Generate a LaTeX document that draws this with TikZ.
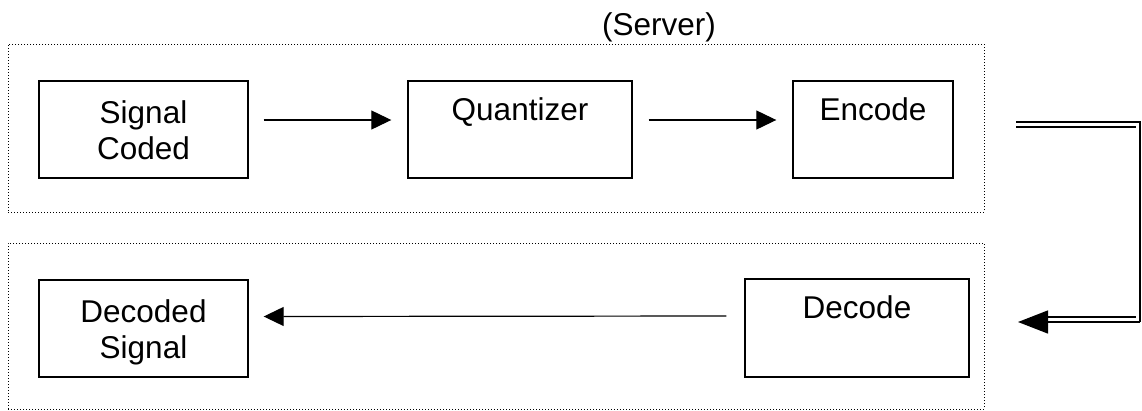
\documentclass[tikz,border=0pt]{standalone}
\usepackage{fontspec}
\setmainfont{Liberation Sans}
\usetikzlibrary{arrows.meta}
\begin{document}
\begin{tikzpicture}[x=1pt,y=-1pt,
  stagebox/.style={draw, line width=1.4pt, inner sep=0pt},
  groupbox/.style={draw, line width=1pt, dotted, inner sep=0pt},
  lbl/.style={font=\fontsize{31.5}{36}\selectfont, inner sep=0pt, align=center},
  flow/.style={line width=1.2pt, -{Triangle[length=20pt,width=19pt]}},
  link/.style={line width=1.4pt}
]
\useasboundingbox (0,0) rectangle (1142,410);

% dotted group frames
\node[groupbox, minimum width=976pt, minimum height=168pt] (server) at (496,128) {};
\node[groupbox, minimum width=976pt, minimum height=166pt] (client) at (496,326) {};
\node[lbl, anchor=base] (servertitle) at (659,35) {(Server)};

% processing stages
\node[stagebox, minimum width=209pt, minimum height=97pt] (sig) at (143.5,129.5) {};
\node[lbl, anchor=base] (sigA) at (143.5,123) {Signal};
\node[lbl, anchor=base] (sigB) at (143.5,159) {Coded};

\node[stagebox, minimum width=224pt, minimum height=97pt] (quant) at (520,129.5) {};
\node[lbl, anchor=base] (quantL) at (520,120) {Quantizer};

\node[stagebox, minimum width=160pt, minimum height=97pt] (enc) at (873,129.5) {};
\node[lbl, anchor=base] (encL) at (873,120) {Encode};

\node[stagebox, minimum width=209pt, minimum height=97pt] (dsig) at (143.5,328.5) {};
\node[lbl, anchor=base] (dsigA) at (143.5,322) {Decoded};
\node[lbl, anchor=base] (dsigB) at (143.5,358) {Signal};

\node[stagebox, minimum width=224pt, minimum height=98pt] (dec) at (857,328) {};
\node[lbl, anchor=base] (decL) at (857,318) {Decode};

% forward flow (shifted up to the first text line)
\draw[flow] ([xshift=15pt,yshift=9.5pt]sig.east) -- ([xshift=-16pt,yshift=9.5pt]quant.west);
\draw[flow] ([xshift=16pt,yshift=9.5pt]quant.east) -- ([xshift=-16pt,yshift=9.5pt]enc.west);
\draw[flow] ([xshift=-18pt,yshift=12pt]dec.west) -- ([xshift=15pt,yshift=12pt]dsig.east);

% double-ruled channel from encoder back to decoder
\coordinate (chA) at (1016,122);
\coordinate (chB) at (1140,122);
\coordinate (chC) at (1140,322);
\coordinate (chD) at (1018,322);
\draw[link] (chA) -- (chB) -- (chC);
\draw[line width=1.4pt, -{Triangle[length=30pt,width=23pt]}] (chC) -- (chD);
\draw[link] ([yshift=-5pt]chA) -- ([xshift=-4pt,yshift=-5pt]chB);
\draw[link] ([xshift=30pt,yshift=5pt]chD) -- ([xshift=-4pt,yshift=5pt]chC);
\end{tikzpicture}
\end{document}
